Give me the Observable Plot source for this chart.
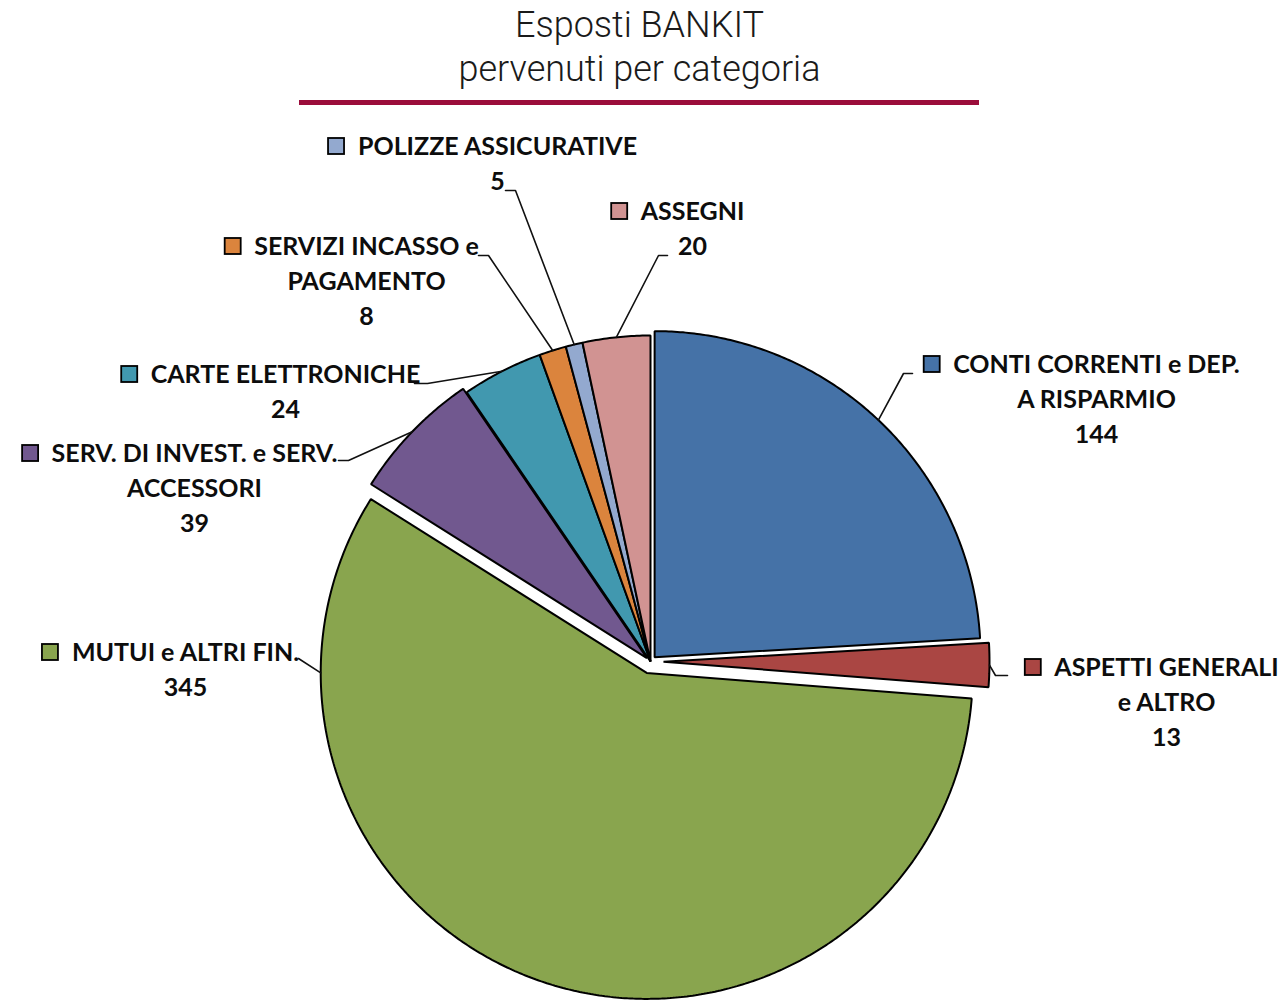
<!DOCTYPE html>
<html>
<head>
<meta charset="utf-8">
<script src="https://cdn.jsdelivr.net/npm/d3@7"></script>
<script src="https://cdn.jsdelivr.net/npm/@observablehq/plot@0.6"></script>
<style>
  html, body { margin: 0; padding: 0; background: #fff; }
  #head { position: relative; width: 1281px; height: 110px; font-family: Roboto, sans-serif; font-weight: 300; color: #1a1a1a; }
  #head .t { position: absolute; left: 0; width: 1279px; text-align: center; font-size: 36px; line-height: 44px; white-space: nowrap; }
  #head .rule { position: absolute; left: 299px; top: 100px; width: 680px; height: 5px; background: #9b0d3b; }
  #chart svg { display: block; }
</style>
</head>
<body>
<div id="head">
  <div class="t" style="top:3px">Esposti BANKIT</div>
  <div class="t" style="top:47px">pervenuti per categoria</div>
  <div class="rule"></div>
</div>
<div id="chart"></div>
<script>
// ---- data ----
const categories = [
  "CONTI CORRENTI e DEP. A RISPARMIO",
  "ASPETTI GENERALI e ALTRO",
  "MUTUI e ALTRI FIN.",
  "SERV. DI INVEST. e SERV. ACCESSORI",
  "CARTE ELETTRONICHE",
  "SERVIZI INCASSO e PAGAMENTO",
  "POLIZZE ASSICURATIVE",
  "ASSEGNI"
];
const values = [144, 13, 345, 39, 24, 8, 5, 20];
const labelLines = [
  ["CONTI CORRENTI e DEP.", "A RISPARMIO"],
  ["ASPETTI GENERALI", "e ALTRO"],
  ["MUTUI e ALTRI FIN."],
  ["SERV. DI INVEST. e SERV.", "ACCESSORI"],
  ["CARTE ELETTRONICHE"],
  ["SERVIZI INCASSO e", "PAGAMENTO"],
  ["POLIZZE ASSICURATIVE"],
  ["ASSEGNI"]
];

// ---- style / layout ----
const colors = ["#4572A7", "#AA4643", "#89A54E", "#71588F", "#4198AF", "#DB843D", "#93A9CF", "#D19392"];
const center = [650, 661];
const R = 326;
const explode = [6, 13, 12, 5, 0, 0, 0, 0];
const labelLayout = [
  {cx: 1096, y: 364, leader: [[912, 373], [903, 373]]},
  {cx: 1166, y: 667, leader: [[1007, 675], [995, 675]]},
  {cx: 185,  y: 652, leader: [[298, 658]], attachDeg: 270},
  {cx: 194,  y: 453, leader: [[338, 460], [348, 460]]},
  {cx: 285,  y: 374, leader: [[414, 383], [427, 383]]},
  {cx: 366,  y: 246, leader: [[478, 255], [488, 255]]},
  {cx: 497,  y: 146, leader: [[505, 190], [515, 190]]},
  {cx: 692,  y: 211, leader: [[667, 255], [658, 255]]}
];
const lineStep = 35;
const fontSize = 25;
const labelFont = "Lato, 'Open Sans', sans-serif";

// ---- geometry from data ----
const arcs = d3.pie().sort(null).value(d => d)(values);
const slicePts = [];
const leaderPts = [];
const keys = [];
const textRows = [];

const canvas = document.createElement("canvas");
const ctx = canvas.getContext("2d");
ctx.font = `700 ${fontSize}px Lato`;

arcs.forEach((a, i) => {
  const cat = categories[i];
  const mid = (a.startAngle + a.endAngle) / 2;
  const ox = center[0] + explode[i] * Math.sin(mid);
  const oy = center[1] - explode[i] * Math.cos(mid);
  slicePts.push({cat, x: ox, y: oy});
  const n = Math.max(2, Math.ceil((a.endAngle - a.startAngle) / (Math.PI / 360)));
  for (let k = 0; k <= n; k++) {
    const t = a.startAngle + (a.endAngle - a.startAngle) * k / n;
    slicePts.push({cat, x: ox + R * Math.sin(t), y: oy - R * Math.cos(t)});
  }
  // leader line
  const L = labelLayout[i];
  const att = L.attachDeg != null ? L.attachDeg * Math.PI / 180 : mid;
  L.leader.forEach(p => leaderPts.push({cat, x: p[0], y: p[1]}));
  leaderPts.push({cat, x: ox + R * Math.sin(att), y: oy - R * Math.cos(att)});
  // text rows
  const lines = [...labelLines[i], String(values[i])];
  lines.forEach((s, j) => textRows.push({cat, text: s, x: L.cx, y: L.y + j * lineStep}));
  // legend key left of first line
  const w = ctx.measureText(labelLines[i][0]).width;
  const left = L.cx - w / 2;
  keys.push({cat, x1: left - 29, x2: left - 13, y1: L.y - 8, y2: L.y + 8});
});

const chart = Plot.plot({
  width: 1281,
  height: 891,
  margin: 0,
  style: {background: "#fff", overflow: "visible"},
  x: {domain: [0, 1281], range: [0, 1281], axis: null},
  y: {domain: [110, 1001], range: [0, 891], axis: null},
  color: {domain: categories, range: colors},
  marks: [
    Plot.line(slicePts, {x: "x", y: "y", z: "cat", fill: "cat", stroke: "#000", strokeWidth: 2, curve: "linear-closed", strokeLinejoin: "miter"}),
    Plot.line(leaderPts, {x: "x", y: "y", z: "cat", stroke: "#111", strokeWidth: 1.6}),
    Plot.rect(keys, {x1: "x1", x2: "x2", y1: "y1", y2: "y2", fill: "cat", stroke: "#000", strokeWidth: 1.8}),
    Plot.text(textRows, {x: "x", y: "y", text: "text", fontSize, fontWeight: 700, fontFamily: labelFont, fill: "#0d0d0d", textAnchor: "middle", lineAnchor: "middle"})
  ]
});
document.getElementById("chart").appendChild(chart);
</script>
</body>
</html>
